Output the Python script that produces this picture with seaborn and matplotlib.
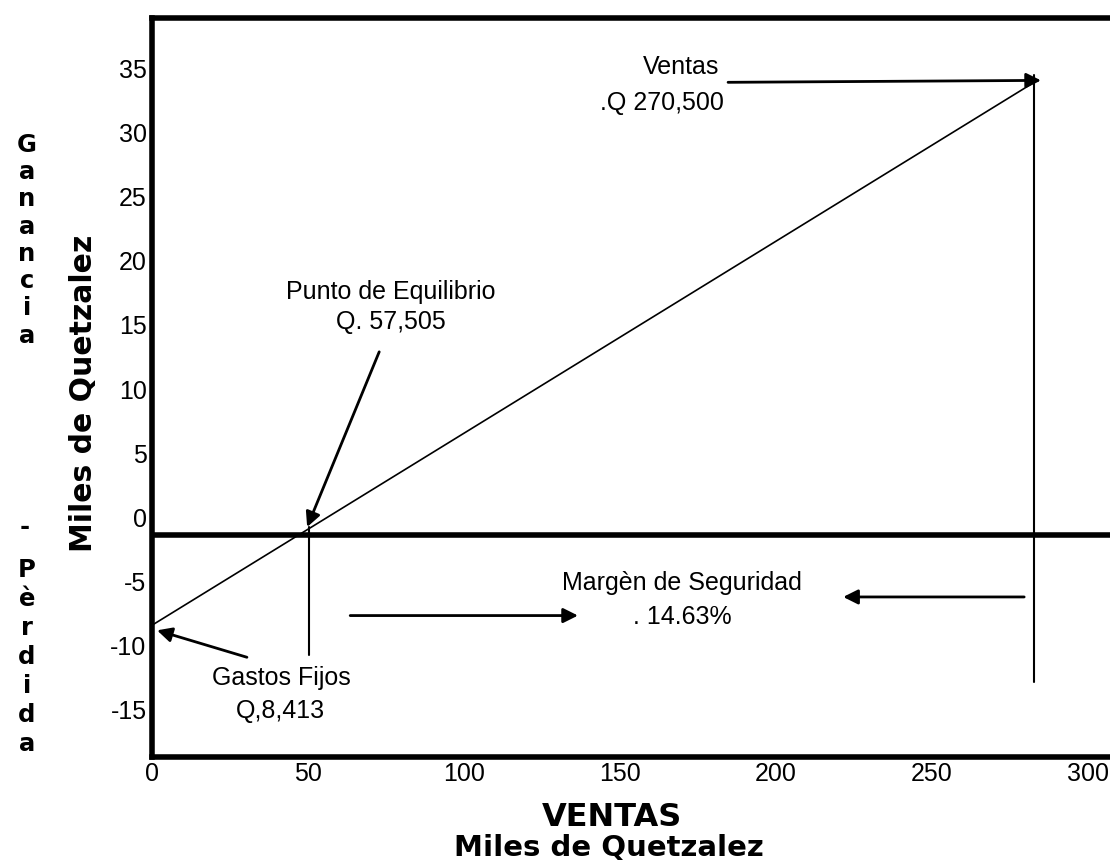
import matplotlib
matplotlib.use("Agg")
import matplotlib.pyplot as plt
import seaborn as sns

# Data (miles de quetzales)
ventas_x = [0, 282.7]
ventas_y = [-8.4, 33.9]
cero_y = -1.37
equilibrio_x = 50.3
equilibrio_y = [-0.75, -10.7]
ventas_total_x = 282.7
ventas_total_y = [34.45, -12.8]

x_ticks = [0, 50, 100, 150, 200, 250, 300]
y_ticks = [-15, -10, -5, 0, 5, 10, 15, 20, 25, 30, 35]

# arrows: (start, end)
flechas = [
    ((184.6, 33.9), (284.9, 34.05)),
    ((72.8, 12.9), (49.7, -0.75)),
    ((30.4, -10.9), (1.6, -8.8)),
    ((63.5, -7.65), (136.5, -7.65)),
    ((279.5, -6.2), (221.5, -6.2)),
]

sns.set_style("white")
plt.rcParams['font.family'] = ['Liberation Sans', 'DejaVu Sans']
plt.rcParams['axes.unicode_minus'] = False
plt.rcParams['text.color'] = 'black'
plt.rcParams['xtick.color'] = 'black'
plt.rcParams['ytick.color'] = 'black'

fig = plt.figure(figsize=(11.1, 8.64), dpi=100)
ax = fig.add_axes([0.137, 0.124, 0.87, 0.855])

sns.lineplot(x=ventas_x, y=ventas_y, color='black', lw=1.2, ax=ax)
ax.axhline(cero_y, color='black', lw=4)
ax.plot([equilibrio_x, equilibrio_x], equilibrio_y, color='black', lw=1.5)
ax.plot([ventas_total_x, ventas_total_x], ventas_total_y, color='black', lw=1.5)

for (x0, y0), (x1, y1) in flechas:
    ax.annotate('', xy=(x1, y1), xytext=(x0, y0),
                arrowprops=dict(arrowstyle='-|>', color='black', lw=2,
                                mutation_scale=22, shrinkA=0, shrinkB=0))

ax.text(169.6, 35.1, "Ventas", fontsize=18, ha='center', va='center')
ax.text(163.5, 32.3, ".Q 270,500", fontsize=18, ha='center', va='center')
ax.text(76.6, 16.4, "Punto de Equilibrio\nQ. 57,505", fontsize=18,
        ha='center', va='center', linespacing=1.35)
ax.text(41.3, -13.8, "Gastos Fijos\nQ,8,413", fontsize=18,
        ha='center', va='center', linespacing=1.5)
ax.text(169.9, -6.43, "Margèn de Seguridad\n. 14.63%", fontsize=18,
        ha='center', va='center', linespacing=1.5)

ax.set_xlim(0, 309.5)
ax.set_ylim(-18.66, 38.9)
ax.set_xticks(x_ticks)
ax.set_yticks(y_ticks)
ax.tick_params(axis='both', labelsize=18, length=0, pad=4, colors='black')

for s in ['left', 'bottom', 'top']:
    ax.spines[s].set_linewidth(4)
    ax.spines[s].set_color('black')
ax.spines['right'].set_visible(False)

heavy = dict(family='DejaVu Sans', fontweight='bold', color='black')
fig.text(84 / 1110, 1 - 393 / 864, "Miles de Quetzalez", rotation=90,
         fontsize=21.5, ha='center', va='center', **heavy)
fig.text(27 / 1110, 1 - 133 / 864, "G\na\nn\na\nn\nc\ni\na", fontsize=17.5,
         ha='center', va='top', linespacing=1.17, **heavy)
fig.text(25 / 1110, 1 - 527 / 864, "-", fontsize=17.5, ha='center',
         va='center', **heavy)
fig.text(27 / 1110, 1 - 558 / 864, "P\nè\nr\nd\ni\nd\na", fontsize=17.5,
         ha='center', va='top', linespacing=1.26, **heavy)
fig.text(612 / 1110, 1 - 817 / 864, "VENTAS", fontsize=23, ha='center',
         va='center', **heavy)
fig.text(609 / 1110, 1 - 848 / 864, "Miles de Quetzalez", fontsize=21,
         ha='center', va='center', **heavy)

fig.savefig("out.png", dpi=100)
